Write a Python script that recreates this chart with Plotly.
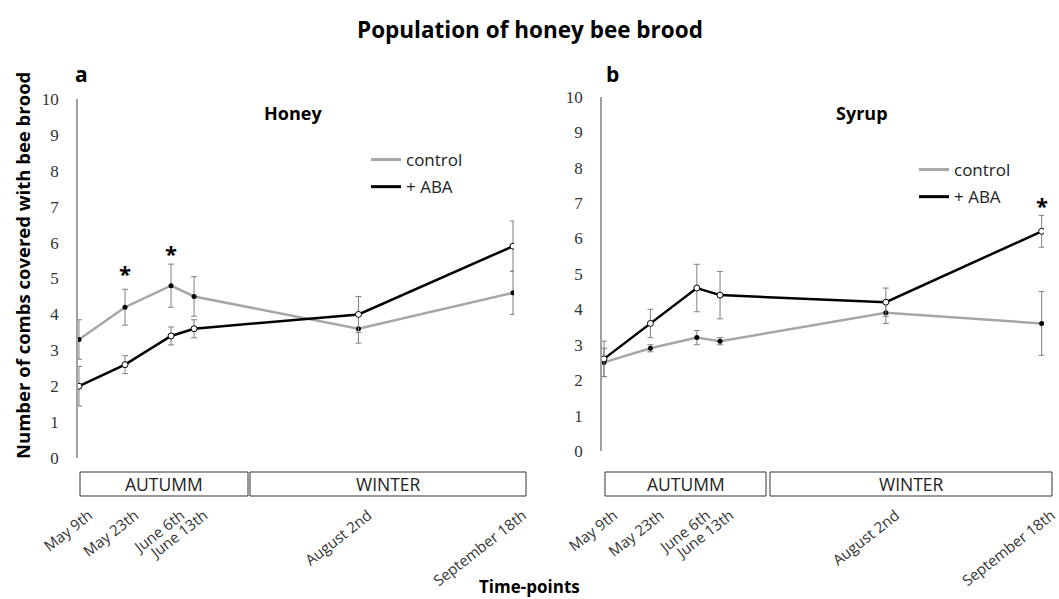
import plotly.graph_objects as go

W, H = 1059, 599

# ---------------- data ----------------
dates = ["May 9th", "May 23th", "June 6th", "June 13th", "August 2nd", "September 18th"]
days = [0, 14, 28, 35, 85, 132]  # days after May 9th

honey_control = [3.3, 4.2, 4.8, 4.5, 3.6, 4.6]
honey_control_err = [0.55, 0.5, 0.6, 0.55, 0.4, 0.6]
honey_aba = [2.0, 2.6, 3.4, 3.6, 4.0, 5.9]
honey_aba_err = [0.55, 0.25, 0.25, 0.25, 0.5, 0.7]

syrup_control = [2.5, 2.9, 3.2, 3.1, 3.9, 3.6]
syrup_control_err = [0.4, 0.1, 0.2, 0.1, 0.3, 0.9]
syrup_aba = [2.6, 3.6, 4.6, 4.4, 4.2, 6.2]
syrup_aba_err = [0.5, 0.4, 0.67, 0.67, 0.4, 0.45]

# significance stars: (day index, y value)
stars_honey = [(1, 5.15), (2, 5.7)]
stars_syrup = [(5, 6.95)]

seasons = ["AUTUMM", "WINTER"]

# ---------------- style ----------------
GRAY = "#a6a6a6"
ERR = "#808080"
SANS = "Open Sans"
SERIF = "Liberation Serif"


def px(p):
    return p / W


def py(p):
    return 1 - p / H


fig = go.Figure()


def add_panel(xa, ya, ctrl, ctrl_err, aba, aba_err):
    fig.add_trace(go.Scatter(
        x=days, y=ctrl, xaxis=xa, yaxis=ya, mode="lines+markers",
        line=dict(color=GRAY, width=2.5),
        marker=dict(color="black", size=5, line=dict(color="black", width=0)),
        error_y=dict(type="data", array=ctrl_err, color=ERR, thickness=1, width=3),
        showlegend=False))
    fig.add_trace(go.Scatter(
        x=days, y=aba, xaxis=xa, yaxis=ya, mode="lines+markers",
        line=dict(color="black", width=2.5),
        marker=dict(color="white", size=6, line=dict(color="black", width=1)),
        error_y=dict(type="data", array=aba_err, color=ERR, thickness=1, width=3),
        showlegend=False))


add_panel("x", "y", honey_control, honey_control_err, honey_aba, honey_aba_err)
add_panel("x2", "y2", syrup_control, syrup_control_err, syrup_aba, syrup_aba_err)

# legend entries (line only)
for lg, grp in (("legend", "a"), ("legend2", "b")):
    fig.add_trace(go.Scatter(x=[None], y=[None], mode="lines", name="control",
                             line=dict(color=GRAY, width=3), legend=lg,
                             legendgroup=grp + "1", xaxis="x", yaxis="y"))
    fig.add_trace(go.Scatter(x=[None], y=[None], mode="lines", name="+ ABA",
                             line=dict(color="black", width=3), legend=lg,
                             legendgroup=grp + "2", xaxis="x", yaxis="y"))

xcommon = dict(tickvals=days, ticktext=dates, tickangle=-38, showgrid=False,
               zeroline=False, showline=False, ticks="", anchor="free",
               position=py(503), ticklabelshift=10, automargin=False,
               ticklabeloverflow="allow",
               tickfont=dict(family=SANS, size=15, color="#333333"))
ycommon = dict(range=[0, 10], dtick=1, showgrid=False, zeroline=False,
               showline=True, linecolor="#a0a0a0", linewidth=1.5, ticks="",
               ticklabelstandoff=14, automargin=False,
               tickfont=dict(family=SERIF, size=17, color="#333333"))

fig.update_layout(
    width=W, height=H, margin=dict(l=0, r=0, t=0, b=0, pad=0, autoexpand=False),
    paper_bgcolor="white", plot_bgcolor="white",
    xaxis=dict(domain=[px(78), px(514)], range=[-0.3, 132.3], **xcommon),
    yaxis=dict(domain=[py(458), py(99)], anchor="x", **ycommon),
    xaxis2=dict(domain=[px(602), px(1044)], range=[-0.6, 132.7], **xcommon),
    yaxis2=dict(domain=[py(451), py(96.7)], anchor="x2", **ycommon),
    legend=dict(x=px(366), y=py(142), xanchor="left", yanchor="top",
                font=dict(family=SANS, size=17, color="#222222"),
                bgcolor="rgba(0,0,0,0)", tracegroupgap=2, itemwidth=30),
    legend2=dict(x=px(914), y=py(152), xanchor="left", yanchor="top",
                 font=dict(family=SANS, size=17, color="#222222"),
                 bgcolor="rgba(0,0,0,0)", tracegroupgap=2, itemwidth=30),
)

ann = []


def add_text(text, x, y, size, xref="paper", yref="paper", angle=0, color="black"):
    ann.append(dict(text=text, x=x, y=y, xref=xref, yref=yref, showarrow=False,
                    xanchor="center", yanchor="middle", textangle=angle,
                    font=dict(family=SANS, size=size, color=color)))


add_text("<b>Population of honey bee brood</b>", 0.5, py(29), 22.5)
add_text("<b>a</b>", px(81), py(74), 21)
add_text("<b>b</b>", px(612), py(74), 21)
add_text("<b>Honey</b>", px(293), py(113), 18)
add_text("<b>Syrup</b>", px(862), py(113), 18)
add_text("<b>Number of combs covered with bee brood</b>", px(22), py(266), 18.5, angle=-90)
add_text("<b>Time-points</b>", 0.5, py(586), 17)
for i, yv in stars_honey:
    add_text("<b>*</b>", days[i], yv, 22, xref="x", yref="y")
for i, yv in stars_syrup:
    add_text("<b>*</b>", days[i], yv, 22, xref="x2", yref="y2")

# season boxes
boxes = [((80, 248), (250, 526)), ((605, 766), (770, 1052))]
shapes = []
for pair in boxes:
    for (x0, x1), name in zip(pair, seasons):
        shapes.append(dict(type="rect", xref="paper", yref="paper",
                           x0=px(x0), x1=px(x1), y0=py(496), y1=py(472),
                           line=dict(color="#333333", width=1), fillcolor="white"))
        add_text(name, px((x0 + x1) / 2), py(484), 17.5, color="#222222")

fig.update_layout(annotations=ann, shapes=shapes)
fig.write_html(
    "out.html",
    config={"displayModeBar": False},
    post_script="document.body.style.margin='0';document.body.style.overflow='hidden';",
)
